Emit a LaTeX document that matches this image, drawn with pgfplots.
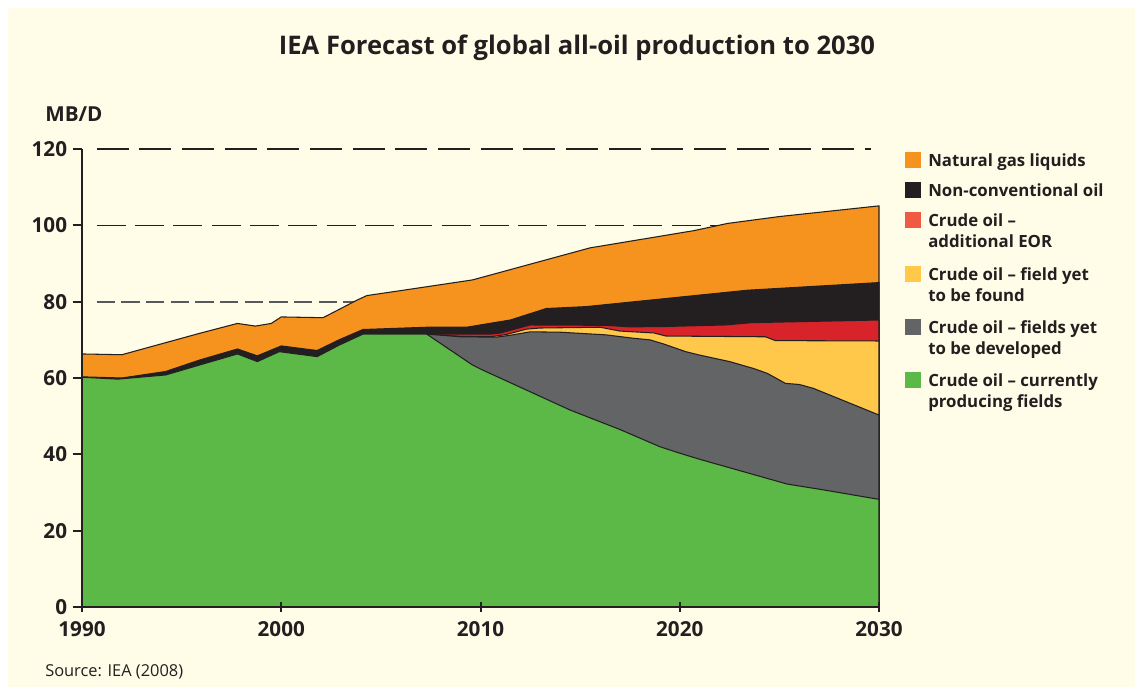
\documentclass[border=0pt]{standalone}
\usepackage{fontspec}
\setmainfont{Open Sans}
\usepackage{pgfplots}
\pgfplotsset{compat=1.18}
\definecolor{cream}{HTML}{FFFCE8}
\definecolor{ngl}{HTML}{F6921E}
\definecolor{nonconv}{HTML}{231F20}
\definecolor{eor}{HTML}{D8232A}
\definecolor{eorleg}{HTML}{F15A42}
\definecolor{yetfound}{HTML}{FFC84A}
\definecolor{yetdev}{HTML}{636466}
\definecolor{current}{HTML}{5DB947}
\definecolor{ink}{HTML}{231F20}
\definecolor{gridgray}{HTML}{58595B}

\begin{document}
\begin{tikzpicture}[x=1pt,y=1pt]
\useasboundingbox (0,0) rectangle (851.25,515.25);
\fill[white] (0,0) rectangle (851.25,515.25);
\fill[cream] (6,0) rectangle (851.25,509.25);
\begin{axis}[
  at={(61.5pt,60pt)}, anchor=south west, scale only axis,
  width=597.75pt, height=343.5pt,
  xmin=1990, xmax=2030, ymin=0, ymax=120,
  clip=false, axis on top,
  axis x line*=bottom, axis y line*=left,
  x axis line style={line width=2.2pt, ink, -},
  y axis line style={line width=1.5pt, ink, -},
  xtick={1990,2000,2010,2020,2030},
  xticklabels={1990,2000,2010,2020,2030},
  ytick={0,20,40,60,80,100,120},
  tick align=outside, major tick length=7pt,
  tick style={line width=1.5pt, ink},
  xtick style={yshift=3.5pt},
  /pgf/number format/assume math mode=true,
  ticklabel style={font=\fontsize{15.5}{17}\selectfont\bfseries, text=ink},
  yticklabel style={anchor=east, inner sep=0pt, xshift=-4pt},
  xticklabel style={anchor=north, inner sep=0pt, yshift=-4pt},
  every axis plot/.append style={no markers},
]
% reference lines
\addplot[forget plot, gridgray, line width=1.3pt, dash pattern=on 13.75pt off 4.75pt] coordinates {(1990.74,80) (2030,80)};
\addplot[forget plot, ink, line width=1pt, dash pattern=on 21.75pt off 7pt] coordinates {(1990.74,100) (2030,100)};
\addplot[forget plot, ink, line width=2.2pt, dash pattern=on 24pt off 8pt] coordinates {(1990.74,120) (2029.6,120)};
% Natural gas liquids (total)
\addplot[fill=ngl, draw=ink, line width=0.8pt] coordinates {
(1990,66.3) (1992,66.1) (1995.9,71.7) (1997.8,74.3) (1998.7,73.6) (1999.5,74.3) (2000.0,76.0)
(2002.1,75.8) (2003.8,80.4) (2004.3,81.6) (2006,82.9) (2009.6,85.7) (2015.5,94.1)
(2020.7,98.6) (2022.4,100.5) (2025,102.3) (2030,105.1)} \closedcycle;
% Non-conventional oil
\addplot[fill=nonconv, draw=ink, line width=0.8pt] coordinates {
(1990,60.3) (1992,60.0) (1994.2,61.7) (1995.9,64.7) (1997.8,67.6) (1998.8,65.8) (2000,68.4)
(2001.8,67.2) (2002.9,70.0) (2004.1,72.7) (2007.3,73.3) (2009.3,73.3) (2011.5,75.2)
(2013.3,78.2) (2015.3,78.7) (2023.4,83.0) (2030,85.0)} \closedcycle;
% Crude oil - additional EOR
\addplot[fill=eor, draw=ink, line width=0.8pt] coordinates {
(2007.3,71.5) (2009,71.5) (2010.5,71.5) (2011,71.8) (2012.5,73.9) (2016.3,73.8) (2017.5,73.4)
(2019.3,73.5) (2022.3,73.9) (2023.6,74.5) (2030,75.2)} \closedcycle;
% Crude oil - field yet to be found
\addplot[fill=yetfound, draw=ink, line width=0.8pt] coordinates {
(2007.3,71.5) (2009,70.9) (2010.5,70.8) (2011.3,71.4) (2012.3,72.8) (2013,73.1) (2016,73.3)
(2017,72.3) (2018.7,71.8) (2019.3,71.0) (2024.3,70.8) (2024.8,69.8) (2030,69.7)} \closedcycle;
% Crude oil - fields yet to be developed
\addplot[fill=yetdev, draw=ink, line width=0.8pt] coordinates {
(2007.3,71.5) (2009,70.8) (2010.8,70.7) (2011.5,71.2) (2012.5,72.1) (2014,72.0) (2016.3,71.3)
(2017.7,70.4) (2018.5,70.0) (2019.2,68.9) (2020.3,66.9) (2021,66.0) (2022.5,64.3)
(2023.7,62.5) (2024.4,61.2) (2025.3,58.6) (2026,58.3) (2026.7,57.3) (2030,50.3)} \closedcycle;
% Crude oil - currently producing fields
\addplot[fill=current, draw=ink, line width=0.8pt] coordinates {
(1990,60.2) (1991.8,59.7) (1994.2,60.8) (1995.9,63.4) (1997.8,66.3) (1998.8,64.3) (1999.9,66.9)
(2001.8,65.6) (2002.9,68.6) (2004.1,71.5) (2007.3,71.5) (2009.6,63.4) (2010.1,62.1)
(2014.5,51.6) (2017,46.5) (2019,42.0) (2020,40.3) (2021,38.7) (2025.4,32.2) (2027.2,30.7)
(2030,28.2)} \closedcycle;
\end{axis}
% texts
\node[anchor=base, inner sep=0pt, font=\fontsize{19.2}{22}\selectfont\bfseries, text=ink] at (432.75,474) {IEA Forecast of global all-oil production to 2030};
\node[anchor=base west, inner sep=0pt, font=\fontsize{15.5}{17}\selectfont\bfseries, text=ink] at (33.75,423.75) {MB/D};
\node[anchor=base west, inner sep=0pt, font=\fontsize{12.3}{14}\selectfont, text=ink] at (33.75,8.25) {Source: IEA (2008)};
% legend
\begin{scope}[every node/.style={anchor=base west, inner sep=0pt, font=\fontsize{12.6}{15}\selectfont\bfseries, text=ink}]
\fill[ngl] (678.75,388.875) rectangle ++(12,12);
\fill[nonconv] (678.75,366.75) rectangle ++(12,12);
\fill[eorleg] (678.75,344.25) rectangle ++(12,12);
\fill[yetfound] (678.75,303.75) rectangle ++(12,12);
\fill[yetdev] (678.75,264) rectangle ++(12,12);
\fill[current] (678.75,224.25) rectangle ++(12,12);
\node at (696,390.375) {Natural gas liquids};
\node at (696,368.25) {Non-conventional oil};
\node at (696,345.375) {Crude oil \textendash};
\node at (696,329.625) {additional EOR};
\node at (696,304.875) {Crude oil \textendash{} field yet};
\node at (696,289.125) {to be found};
\node at (696,265.125) {Crude oil \textendash{} fields yet};
\node at (696,249.375) {to be developed};
\node at (696,225.375) {Crude oil \textendash{} currently};
\node at (696,209.625) {producing fields};
\end{scope}
\end{tikzpicture}
\end{document}
